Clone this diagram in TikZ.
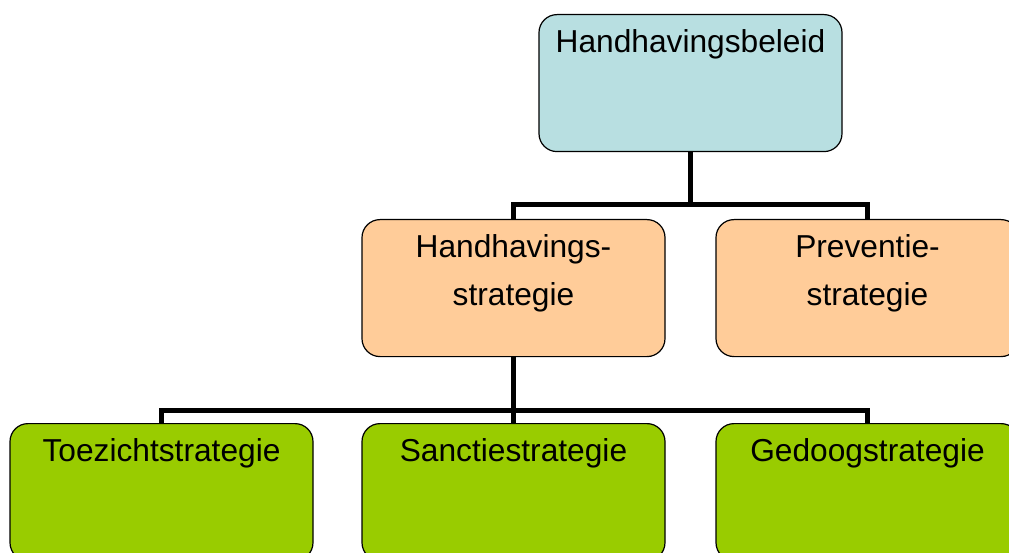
\documentclass[tikz,border=0pt]{standalone}
\usepackage{fontspec}
\setmainfont{Liberation Sans}
\definecolor{policyblue}{HTML}{B8DFE1}
\definecolor{strategyorange}{HTML}{FFCC99}
\definecolor{tacticgreen}{HTML}{99CC00}
\begin{document}
\begin{tikzpicture}[x=1pt,y=-1pt,
  orgbox/.style={draw=black, line width=1.2pt, rounded corners=18pt,
    anchor=north, inner sep=0pt, minimum width=303pt, minimum height=137pt,
    text width=303pt, align=center, text height=38pt, text depth=99pt,
    font=\fontsize{31.7pt}{48pt}\selectfont},
  conn/.style={line width=5pt, black}]
\useasboundingbox (0,0) rectangle (1009,553);
\clip (0,0) rectangle (1009,553);
% junction points of the tree
\coordinate (j1) at (690.5,205);
\coordinate (j2) at (513.5,410.5);
% connectors are drawn first so the box outlines sit on top
\coordinate (ctop) at (690.5,151);
\coordinate (chs) at (513.5,219);
\coordinate (cps) at (867.5,219);
\coordinate (chsb) at (513.5,356);
\coordinate (ctz) at (161.5,423);
\coordinate (csc) at (513.5,423);
\coordinate (cgd) at (867.5,423);
\draw[conn] (ctop) -- (j1);
\draw[conn] (chs) |- (j1) -| (cps);
\draw[conn] (chsb) -- (j2);
\draw[conn] (ctz) |- (j2) -| (cgd);
\draw[conn] (csc) -- (j2);
% boxes
\node[orgbox, fill=policyblue] (top) at (690.5,14) {Handhavingsbeleid};
\node[orgbox, fill=strategyorange] (hs) at (513.5,219) {Handhavings-\\strategie};
\node[orgbox, fill=strategyorange] (ps) at (867.5,219) {Preventie-\\strategie};
\node[orgbox, fill=tacticgreen] (tz) at (161.5,423) {Toezichtstrategie};
\node[orgbox, fill=tacticgreen] (sc) at (513.5,423) {Sanctiestrategie};
\node[orgbox, fill=tacticgreen] (gd) at (867.5,423) {Gedoogstrategie};
\end{tikzpicture}
\end{document}
